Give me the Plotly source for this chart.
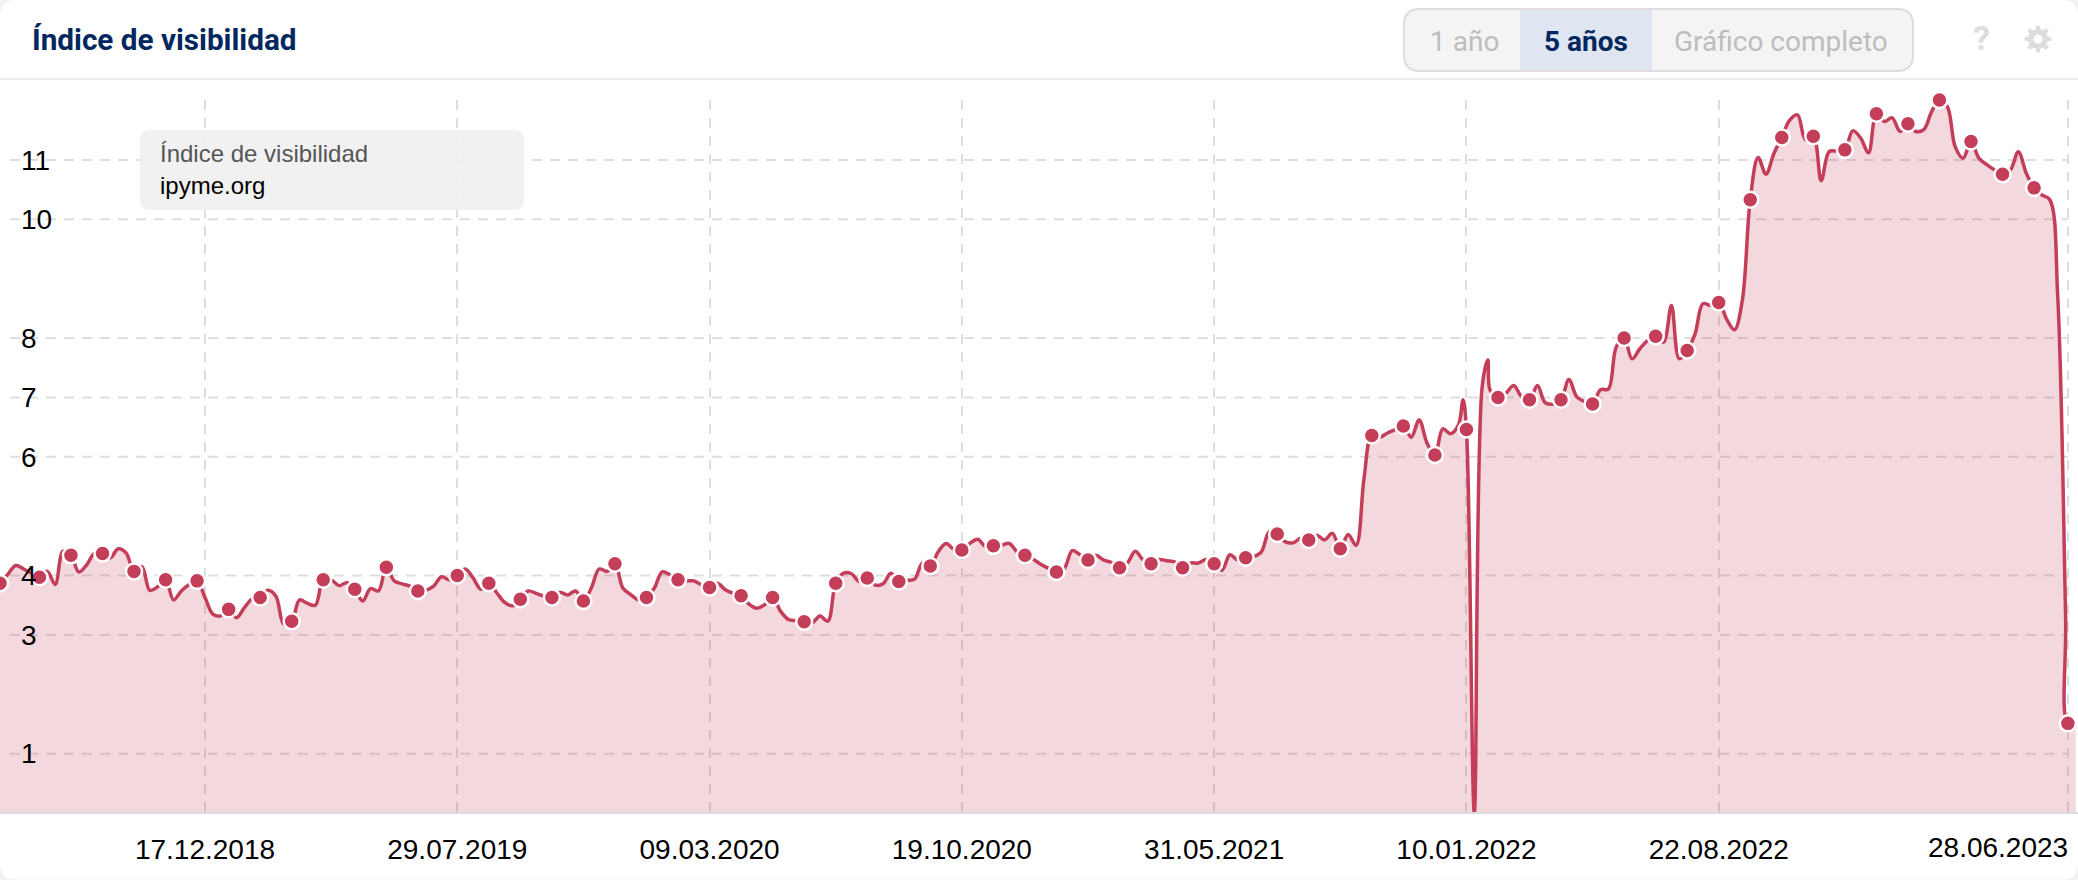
import math
import pandas as pd
import plotly.graph_objects as go

W, H = 2078, 880
PLOT_TOP, PLOT_BOTTOM = 100, 813.4

# weekly index values, first week 18.06.2018
weekly_start = "2018-06-18"
values = [
    3.87, 4.02, 4.17, 4.11, 4.04, 3.97, 4.07, 3.85, 4.41, 4.34, 4.06, 4.18, 4.38, 4.37, 4.30, 4.45,
    4.38, 4.07, 4.15, 3.75, 3.81, 3.93, 3.59, 3.74, 3.85, 3.91,
    3.63, 3.35, 3.32, 3.43, 3.29, 3.46, 3.61, 3.63, 3.75, 3.65, 3.18, 3.23, 3.59, 3.53, 3.50, 3.93,
    3.93, 3.83, 3.88, 3.77, 3.57, 3.78, 3.74, 4.14, 3.91, 3.86, 3.82, 3.74, 3.75, 3.82, 3.98, 3.93,
    4.00, 4.11, 3.96, 3.77, 3.87, 3.71, 3.55, 3.49, 3.60, 3.74, 3.70, 3.65, 3.63, 3.72, 3.67, 3.74,
    3.57, 3.79, 4.11, 4.07, 4.20, 3.79, 3.68, 3.59, 3.63, 3.79, 4.06, 4.01, 3.93, 3.91, 3.91, 3.84,
    3.80, 3.87, 3.76, 3.70, 3.66, 3.52, 3.45, 3.51, 3.63, 3.40, 3.26, 3.24, 3.22, 3.20, 3.32, 3.23,
    3.87, 4.04, 4.03, 3.90, 3.96, 3.84, 3.86, 4.04, 3.90, 3.92, 3.94, 4.21, 4.16, 4.40, 4.54, 4.44,
    4.43, 4.54, 4.61, 4.49, 4.50, 4.51, 4.54, 4.40, 4.34, 4.28, 4.19, 4.12, 4.06, 4.12, 4.42, 4.35,
    4.26, 4.34, 4.26, 4.22, 4.13, 4.21, 4.41, 4.26, 4.20, 4.27, 4.25, 4.23, 4.13, 4.21, 4.21, 4.27,
    4.20, 4.09, 4.35, 4.26, 4.30, 4.32, 4.40, 4.74, 4.70, 4.57, 4.55, 4.63, 4.60, 4.68, 4.60, 4.71,
    4.45, 4.69, 4.51, 5.62, 6.36, 6.33, 6.40, 6.46, 6.52, 6.33, 6.62, 6.23, 6.03, 6.47, 6.39, 6.54,
    6.46, 0.00, 7.18, 7.12, 7.00, 7.07, 7.20, 7.01, 6.96, 7.20, 6.91, 6.89, 6.96, 7.30, 7.01, 6.93,
    6.89, 7.13, 7.14, 7.85, 8.00, 7.65, 7.82, 7.96, 8.03, 7.93, 8.55, 7.65, 7.79, 8.07, 8.58, 8.55,
    8.60, 8.32, 8.14, 8.64, 10.33, 11.04, 10.76, 11.11, 11.38, 11.67, 11.76, 11.34, 11.40, 10.65, 11.14, 11.15,
    11.17, 11.49, 11.37, 11.12, 11.78, 11.65, 11.71, 11.48, 11.61, 11.48, 11.51, 11.81, 12.01, 11.90, 11.22, 11.03,
    11.31, 11.03, 10.92, 10.83, 10.76, 10.83, 11.14, 10.78, 10.53, 10.41, 10.33, 8.70, 3.30,
]
final_dates = ["2023-06-28", "2023-07-05"]
final_values = [1.51, 1.50]

# short-lived peaks between two weekly readings
peak_dates = ["2022-01-07", "2022-01-29"]
peak_values = [6.96, 7.63]

# positions (week number) of the dotted points
marked_weeks = [
    0, 5, 9, 13, 17, 21, 25, 29, 33, 37, 41, 45, 49, 53, 58, 62, 66, 70, 74, 78, 82, 86, 90, 94, 98, 102,
    106, 110, 114, 118, 122, 126, 130, 134, 138, 142, 146, 150, 154, 158, 162, 166, 170, 174, 178, 182,
    186, 190, 194, 198, 202, 206, 210, 214, 218, 222, 226, 230, 234, 238, 242, 246, 250, 254, 258,
]

x_tick_dates = ["2018-12-17", "2019-07-29", "2020-03-09", "2020-10-19", "2021-05-31", "2022-01-10", "2022-08-22", "2023-06-28"]
x_tick_text = ["17.12.2018", "29.07.2019", "09.03.2020", "19.10.2020", "31.05.2021", "10.01.2022", "22.08.2022", ""]
last_label = "28.06.2023"
y_tick_vals = [1, 3, 4, 6, 7, 8, 10, 11]
y_tick_text = ["1", "3", "4", "6", "7", "8", "10", "11"]

RED = "#c43e5a"
FILL = "rgba(196,62,90,0.2)"
GRID = "#dedede"
NAVY = "#00275e"

week_dates = [str(d.date()) for d in pd.date_range(weekly_start, periods=len(values), freq="7D")]
marked_x = [week_dates[i] for i in marked_weeks] + [final_dates[0]]
marked_y = [values[i] for i in marked_weeks] + [final_values[0]]
pairs = sorted(zip(week_dates + peak_dates + final_dates, values + peak_values + final_values))
dates = [p[0] for p in pairs]
series = [p[1] for p in pairs]


def xp(x):
    return x / W


def yp(y):
    return (PLOT_BOTTOM - y) / (PLOT_BOTTOM - PLOT_TOP)


def rrect(x0, y0, x1, y1, r):
    a, b, c, d = xp(x0), yp(y0), xp(x1), yp(y1)
    rx, ry = r / W, r / (PLOT_BOTTOM - PLOT_TOP)
    return (f"M{a+rx},{b} L{c-rx},{b} Q{c},{b} {c},{b-ry} L{c},{d+ry} Q{c},{d} {c-rx},{d} "
            f"L{a+rx},{d} Q{a},{d} {a},{d+ry} L{a},{b-ry} Q{a},{b} {a+rx},{b} Z")


def gear(cx, cy, outer, inner, hole, teeth=8):
    pts = []
    step = 2 * math.pi / teeth
    for i in range(teeth):
        t = i * step
        for off, r in ((-0.30, inner), (-0.17, outer), (0.17, outer), (0.30, inner)):
            a = t + off * step * 1.0
            pts.append((cx + r * math.cos(a), cy + r * math.sin(a)))
    d = "M" + " L".join(f"{xp(x)},{yp(y)}" for x, y in pts) + " Z "
    hole_pts = [(cx + hole * math.cos(-2 * math.pi * i / 24), cy + hole * math.sin(-2 * math.pi * i / 24)) for i in range(24)]
    d += "M" + " L".join(f"{xp(x)},{yp(y)}" for x, y in hole_pts) + " Z"
    return d


shapes = [
    dict(type="path", xref="paper", yref="paper", path=rrect(0, 0, W, H, 16), fillcolor="white",
         line=dict(width=0), layer="below"),
    dict(type="line", xref="paper", yref="paper", x0=0, x1=1, y0=yp(79), y1=yp(79),
         line=dict(color="#ececec", width=2), layer="below"),
    dict(type="line", xref="paper", yref="paper", x0=0, x1=1, y0=0, y1=0,
         line=dict(color="#dcdcdc", width=2), layer="above"),
    dict(type="path", xref="paper", yref="paper", path=rrect(1404, 9, 1913, 71, 16), fillcolor="#f4f4f4",
         line=dict(color="#dddddd", width=2), layer="above"),
    dict(type="rect", xref="paper", yref="paper", x0=xp(1520), x1=xp(1652), y0=yp(10), y1=yp(70),
         fillcolor="#dfe6f1", line=dict(width=0), layer="above"),
    dict(type="path", xref="paper", yref="paper", path=rrect(140, 130, 524, 210, 10),
         fillcolor="rgba(240,240,240,0.93)", line=dict(width=0), layer="above"),
    dict(type="path", xref="paper", yref="paper", path=gear(2038, 39, 13.5, 10, 4.5), fillcolor="#dddddd",
         line=dict(width=0), layer="above"),
]
for v in y_tick_vals:
    shapes.append(dict(type="line", xref="paper", yref="y", x0=xp(10), x1=xp(2068), y0=v, y1=v,
                       line=dict(color=GRID, width=2, dash="10px,8px"), layer="below"))


def note(text, x, y, size, color, family="Roboto", anchor="left"):
    return dict(text=text, xref="paper", yref="paper", x=xp(x), y=yp(y), xanchor=anchor, yanchor="middle",
                showarrow=False, font=dict(size=size, color=color, family=family))


annotations = [
    note("<b>Índice de visibilidad</b>", 30, 39, 29.7, NAVY),
    note("1 año", 1464, 41, 28, "#bdbdbd", anchor="center"),
    note("<b>5 años</b>", 1586, 41, 28, NAVY, anchor="center"),
    note("Gráfico completo", 1781, 41, 28, "#bdbdbd", anchor="center"),
    note("<b>?</b>", 1981, 38, 34, "#dddddd", anchor="center"),
    note("Índice de visibilidad", 158, 154, 24, "#555555", family="Liberation Sans"),
    note("ipyme.org", 158, 186, 24, "#000000", family="Liberation Sans"),
    dict(text=last_label, xref="x", yref="paper", x=x_tick_dates[-1], y=yp(848), xanchor="right", yanchor="middle",
         xshift=2, showarrow=False, font=dict(size=28, color="#000000", family="Liberation Sans")),
]

fig = go.Figure()
fig.add_trace(go.Scatter(x=dates, y=series, mode="lines", fill="tozeroy", fillcolor=FILL,
                         line=dict(color=RED, width=3.5, shape="spline", smoothing=1.0), hoverinfo="skip"))
fig.add_trace(go.Scatter(x=marked_x, y=marked_y, mode="markers", cliponaxis=False,
                         marker=dict(color=RED, size=16, line=dict(color="white", width=2.5)), hoverinfo="skip"))
fig.update_layout(
    width=W, height=H, showlegend=False, paper_bgcolor="#f2f2f2", plot_bgcolor="rgba(0,0,0,0)",
    margin=dict(l=0, r=0, t=PLOT_TOP, b=H - PLOT_BOTTOM, pad=0),
    shapes=shapes, annotations=annotations,
    xaxis=dict(type="date", range=["2018-06-18", "2023-07-07"], tickmode="array", tickvals=x_tick_dates,
               ticktext=x_tick_text, showgrid=True, gridcolor=GRID, gridwidth=2, griddash="10px,8px",
               zeroline=False, showline=False, ticks="", ticklabelstandoff=17,
               tickfont=dict(size=28, color="#000000", family="Liberation Sans")),
    yaxis=dict(range=[0, 12.01], tickmode="array", tickvals=y_tick_vals, ticktext=y_tick_text, showgrid=False,
               zeroline=False, showline=False, ticks="", ticklabelposition="inside", ticklabelstandoff=18,
               tickfont=dict(size=28, color="#000000", family="Liberation Sans")),
)
fig.write_html("out.html", config=dict(displayModeBar=False),
               post_script="document.body.style.margin='0';document.body.style.overflow='hidden';")
